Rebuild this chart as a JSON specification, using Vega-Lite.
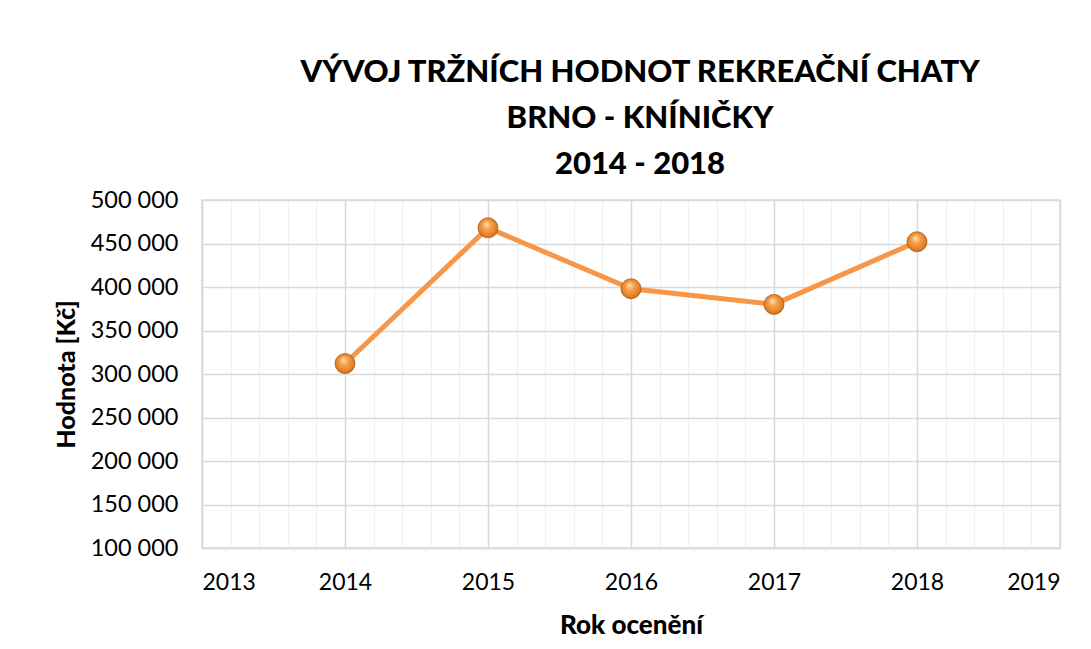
{
  "$schema": "https://vega.github.io/schema/vega-lite/v6.json",
  "autosize": "none",
  "width": 858,
  "height": 348,
  "padding": {"left": 202, "top": 200, "right": 31, "bottom": 101},
  "background": "white",
  "title": {
    "text": ["VÝVOJ TRŽNÍCH HODNOT REKREAČNÍ CHATY", "BRNO - KNÍNIČKY", "2014 - 2018"],
    "font": "Lato",
    "fontSize": 31,
    "fontWeight": 900,
    "color": "#000000",
    "lineHeight": 46,
    "anchor": "middle",
    "dx": 9,
    "offset": 7
  },
  "data": {
    "values": [
      {"rok": 2014, "hodnota": 312000},
      {"rok": 2015, "hodnota": 468000},
      {"rok": 2016, "hodnota": 398000},
      {"rok": 2017, "hodnota": 380000},
      {"rok": 2018, "hodnota": 452000}
    ]
  },
  "encoding": {
    "x": {
      "field": "rok",
      "type": "quantitative",
      "scale": {"domain": [2013, 2019], "nice": false, "zero": false},
      "axis": {
        "title": "Rok ocenění",
        "values": [2013, 2013.2, 2013.4, 2013.6, 2013.8, 2014, 2014.2, 2014.4, 2014.6, 2014.8, 2015, 2015.2, 2015.4, 2015.6, 2015.8, 2016, 2016.2, 2016.4, 2016.6, 2016.8, 2017, 2017.2, 2017.4, 2017.6, 2017.8, 2018, 2018.2, 2018.4, 2018.6, 2018.8, 2019],
        "labelExpr": "datum.value % 1 === 0 ? '' + datum.value : ''",
        "grid": true,
        "gridColor": {"condition": {"test": "datum.value % 1 === 0", "value": "#d9d9d9"}, "value": "#f0f0f0"},
        "gridWidth": {"condition": {"test": "datum.value % 1 === 0", "value": 1.5}, "value": 1.2},
        "ticks": false,
        "domain": true,
        "domainColor": "#d9d9d9",
        "domainWidth": 1.5,
        "labelPadding": 23,
        "labelFont": "Lato",
        "labelFontSize": 23,
        "labelColor": "#000000",
        "labelOverlap": false,
        "titleFont": "Lato",
        "titleFontSize": 26,
        "titleFontWeight": 900,
        "titleColor": "#000000",
        "titlePadding": 18
      }
    },
    "y": {
      "field": "hodnota",
      "type": "quantitative",
      "scale": {"domain": [100000, 500000], "nice": false, "zero": false},
      "axis": {
        "title": "Hodnota [Kč]",
        "values": [100000, 150000, 200000, 250000, 300000, 350000, 400000, 450000, 500000],
        "labelExpr": "replace(format(datum.value, ','), ',', ' ')",
        "grid": true,
        "gridColor": "#d9d9d9",
        "gridWidth": 1.5,
        "ticks": false,
        "domain": true,
        "domainColor": "#d9d9d9",
        "domainWidth": 1.5,
        "labelPadding": 24,
        "labelFont": "Lato",
        "labelFontSize": 23.5,
        "labelColor": "#000000",
        "titleFont": "Lato",
        "titleFontSize": 25,
        "titleFontWeight": 900,
        "titleColor": "#000000",
        "titlePadding": 11
      }
    }
  },
  "layer": [
    {
      "mark": {"type": "line", "color": "#F79646", "strokeWidth": 5, "strokeCap": "round", "strokeJoin": "round"}
    },
    {
      "mark": {
        "type": "point",
        "shape": "circle",
        "filled": true,
        "size": 400,
        "opacity": 1,
        "fill": {
          "gradient": "radial",
          "x1": 0.42, "y1": 0.3, "r1": 0.02,
          "x2": 0.5, "y2": 0.5, "r2": 0.55,
          "stops": [
            {"offset": 0, "color": "#ffe0b8"},
            {"offset": 0.35, "color": "#f9a24c"},
            {"offset": 0.8, "color": "#e07f26"},
            {"offset": 1, "color": "#a8560e"}
          ]
        },
        "stroke": "#b0601a",
        "strokeWidth": 0.8
      }
    }
  ],
  "config": {
    "view": {"stroke": "#d9d9d9", "strokeWidth": 1.5}
  }
}
